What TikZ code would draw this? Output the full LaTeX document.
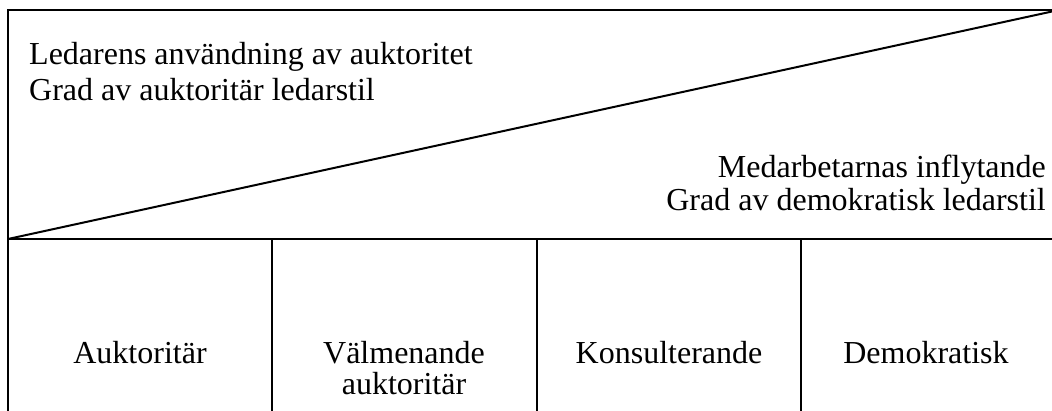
\documentclass[tikz,border=0pt]{standalone}
\usepackage{fontspec}
\setmainfont{Liberation Serif}
\begin{document}
\begin{tikzpicture}[x=1pt,y=-1pt,
  frame/.style={line width=2pt,line cap=rect},
  lbl/.style={inner sep=0pt,font=\fontsize{32}{36}\selectfont}]
\useasboundingbox (0,0) rectangle (1052,411);
% frame corners
\coordinate (tl) at (8,10);
\coordinate (tr) at (1052,10);
\coordinate (ml) at (8,239);
\coordinate (mr) at (1052,239);
\coordinate (bl) at (8,413);
\coordinate (dr) at (1052,11.5);
% column dividers
\coordinate (c1t) at (272,239); \coordinate (c1b) at (272,413);
\coordinate (c2t) at (537,239); \coordinate (c2b) at (537,413);
\coordinate (c3t) at (801,239); \coordinate (c3b) at (801,413);
\draw[frame] (tr) -- (tl) -- (bl);
\draw[frame] (ml) -- (mr);
\draw[line width=2pt] (ml) -- (dr);
\draw[frame] (c1t) -- (c1b);
\draw[frame] (c2t) -- (c2b);
\draw[frame] (c3t) -- (c3b);
% header texts
\node[lbl,anchor=base west] (h1) at (29,65) {Ledarens användning av auktoritet};
\node[lbl,anchor=base west] (h2) at (29,101) {Grad av auktoritär ledarstil};
\node[lbl,anchor=base east] (h3) at (1046,178) {Medarbetarnas inflytande};
\node[lbl,anchor=base east] (h4) at (1046,211) {Grad av demokratisk ledarstil};
% column labels
\node[lbl,anchor=base] (k1) at (140,363) {Auktoritär};
\node[lbl,anchor=base] (k2a) at (404,363) {Välmenande};
\node[lbl,anchor=base] (k2b) at (404,395) {auktoritär};
\node[lbl,anchor=base] (k3) at (669,363) {Konsulterande};
\node[lbl,anchor=base] (k4) at (926,363) {Demokratisk};
\end{tikzpicture}
\end{document}
